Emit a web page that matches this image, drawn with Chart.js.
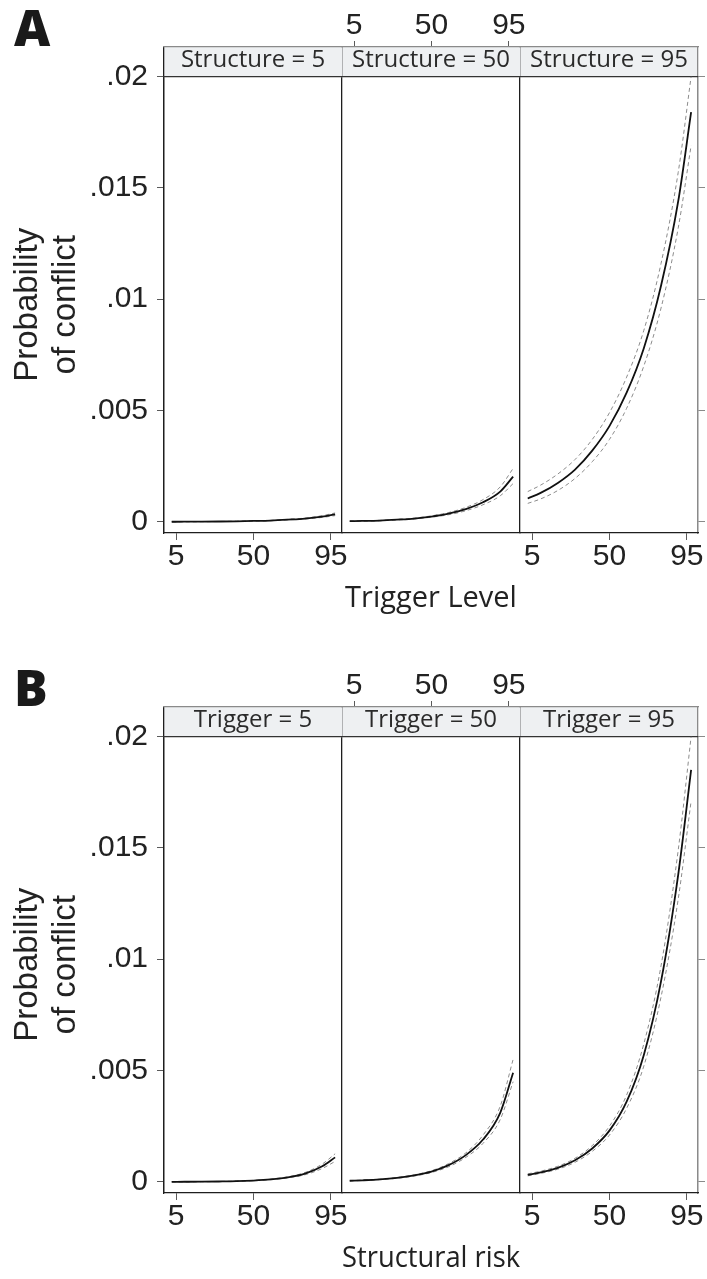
<!DOCTYPE html>
<html lang="en">
<head>
<meta charset="UTF-8">
<title>Probability of conflict</title>
<script src="https://cdn.jsdelivr.net/npm/chart.js@4"></script>
<style>
  html, body { margin: 0; padding: 0; background: #fff; overflow: hidden; }
  body { width: 707px; height: 1279px; position: relative; }
  canvas { position: absolute; left: 0; }
  #chartA { top: 0; }
  #chartB { top: 660px; }
  .letter { position: absolute; left: 14px; font: 800 50px/1 "Open Sans", sans-serif; color: #1a1a1a; }
</style>
</head>
<body>
<div class="letter" style="top:2px">A</div>
<div class="letter" style="top:662px">B</div>
<canvas id="chartA" width="707" height="619"></canvas>
<canvas id="chartB" width="707" height="619"></canvas>
<script>
// where the curves were read (percentile of the varying variable)
const xPoints = [2.5, 10, 20, 30, 40, 50, 60, 70, 80, 90, 97.5];
const xTicks = [5, 50, 95];
const yTicks = [0, 0.005, 0.01, 0.015, 0.02];
const yTickLabels = ['0', '.005', '.01', '.015', '.02'];

// A: trigger level varies, structure held fixed
const stripA = ['Structure = 5', 'Structure = 50', 'Structure = 95'];
const struct5Est  = [0.000005, 0.000007, 0.00001, 0.000016, 0.000025, 0.00004, 0.00006, 0.0001, 0.00015, 0.00024, 0.00034];
const struct5Lo   = [0.000004, 0.000006, 0.000009, 0.000014, 0.000022, 0.000035, 0.000053, 0.000087, 0.00013, 0.0002, 0.00028];
const struct5Hi   = [0.000006, 0.000008, 0.000012, 0.000018, 0.000029, 0.000046, 0.00007, 0.000115, 0.00017, 0.00028, 0.0004];
const struct50Est = [0.00003, 0.00004, 0.00006, 0.0001, 0.00015, 0.00024, 0.00037, 0.00057, 0.00088, 0.00136, 0.00203];
const struct50Lo  = [0.00002, 0.00003, 0.00005, 0.00008, 0.00013, 0.00021, 0.00032, 0.0005, 0.00077, 0.00117, 0.00172];
const struct50Hi  = [0.00004, 0.00005, 0.00007, 0.00011, 0.00017, 0.00027, 0.00042, 0.00065, 0.001, 0.00157, 0.0024];
const struct95Est = [0.00105, 0.0013, 0.00175, 0.00235, 0.0032, 0.0043, 0.0058, 0.0078, 0.0106, 0.0144, 0.0184];
const struct95Lo  = [0.00083, 0.00103, 0.00141, 0.00195, 0.0027, 0.0037, 0.0051, 0.007, 0.0096, 0.0132, 0.0169];
const struct95Hi  = [0.00136, 0.00165, 0.00215, 0.0028, 0.0037, 0.0049, 0.0065, 0.0086, 0.0116, 0.0157, 0.02];

// B: structural risk varies, trigger held fixed
const stripB = ['Trigger = 5', 'Trigger = 50', 'Trigger = 95'];
const trig5Est  = [0.000003, 0.000005, 0.000009, 0.000017, 0.00003, 0.00006, 0.00011, 0.0002, 0.00037, 0.0007, 0.0011];
const trig5Lo   = [0.000002, 0.000004, 0.000008, 0.000015, 0.000027, 0.000053, 0.000097, 0.00018, 0.00032, 0.0006, 0.00092];
const trig5Hi   = [0.000004, 0.000006, 0.00001, 0.000019, 0.000034, 0.000067, 0.000125, 0.00023, 0.00042, 0.0008, 0.00126];
const trig50Est = [0.00005, 0.00007, 0.00011, 0.00018, 0.00029, 0.00046, 0.00075, 0.0012, 0.0019, 0.0031, 0.0049];
const trig50Lo  = [0.00004, 0.00006, 0.0001, 0.00016, 0.00026, 0.00042, 0.00068, 0.0011, 0.00173, 0.0028, 0.0045];
const trig50Hi  = [0.00006, 0.00008, 0.00012, 0.0002, 0.00032, 0.0005, 0.00082, 0.0013, 0.0021, 0.0034, 0.0055];
const trig95Est = [0.00031, 0.00043, 0.00063, 0.00097, 0.0015, 0.0023, 0.0036, 0.0057, 0.009, 0.0138, 0.0185];
const trig95Lo  = [0.00027, 0.00038, 0.00057, 0.00088, 0.00137, 0.0021, 0.0033, 0.0052, 0.0083, 0.0127, 0.0171];
const trig95Hi  = [0.00036, 0.00048, 0.0007, 0.00106, 0.00163, 0.0025, 0.0039, 0.0062, 0.0097, 0.0149, 0.02];

const X_MIN = -2, X_MAX = 101.5;
const Y_MIN = -0.0005, Y_MAX = 0.02;
const dark = '#1e1e1e', gray = '#8a8a8a', tickGray = '#5a5a5a';
const tickFont = { family: '"Liberation Sans", Arial, sans-serif', size: 30, lineHeight: 1 };
const labelFont = '"Open Sans", "Noto Sans", sans-serif';

function setTicks(values) {
    return axis => { axis.ticks = values.map(v => ({ value: v })); };
}
function noPad(axis) {
    axis.paddingLeft = axis.paddingRight = axis.paddingTop = axis.paddingBottom = 0;
}
function fixHeight(h) {
    return axis => { axis.height = h; noPad(axis); };
}
function fixWidth(w) {
    return axis => { axis.width = w; noPad(axis); };
}

function makeChart(canvasId, strips, panels, xTitle) {
    const scales = {
        y: {
            type: 'linear', position: 'left', min: Y_MIN, max: Y_MAX,
            afterBuildTicks: setTicks(yTicks),
            afterFit: fixWidth(164),
            ticks: { font: tickFont, color: '#222', padding: 9,
                     callback: v => yTickLabels[yTicks.indexOf(v)] },
            grid: { drawOnChartArea: false, tickLength: 7, color: tickGray },
            border: { color: dark, width: 1.3 },
            title: { display: true, text: ['Probability', 'of conflict'], color: '#222',
                     font: { family: '"Liberation Sans", Arial, sans-serif', size: 33, lineHeight: 1.15 },
                     padding: { top: 9, bottom: 0 } }
        },
        yr: {
            type: 'linear', axis: 'y', position: 'right', min: Y_MIN, max: Y_MAX,
            afterBuildTicks: setTicks(yTicks),
            afterFit: fixWidth(9),
            ticks: { display: false },
            grid: { drawOnChartArea: false, tickLength: 7, color: gray },
            border: { color: gray, width: 1.3 }
        }
    };

    // bottom axes: labels on the outer panels, title under the middle one
    [0, 1, 2].forEach(i => {
        scales['x' + (i + 1)] = {
            type: 'linear', axis: 'x', position: 'bottom', stack: 'bottom', weight: 1,
            min: X_MIN, max: X_MAX,
            afterBuildTicks: setTicks(xTicks),
            afterFit: fixHeight(86),
            ticks: { display: i !== 1, font: tickFont, color: '#222', padding: 2, autoSkip: false, maxRotation: 0 },
            grid: { drawOnChartArea: false, drawTicks: i !== 1, tickLength: 7, color: tickGray },
            border: { color: dark, width: 1.3 },
            title: { display: i === 1, text: xTitle, color: '#222',
                     font: { family: labelFont, size: 29 }, padding: { top: 0, bottom: 3 } }
        };
    });

    // top boxes are laid out right to left, so add them in reverse
    [2, 1, 0].forEach(i => {
        // strip band with the panel label; its edge ticks give the panel dividers
        scales['s' + (i + 1)] = {
            type: 'linear', axis: 'x', position: 'top', stack: 'strip', weight: 1,
            min: X_MIN, max: X_MAX,
            afterBuildTicks: setTicks(i === 2 ? [X_MIN, X_MAX] : [X_MIN]),
            afterFit: fixHeight(29.5),
            backgroundColor: '#eef0f2',
            ticks: { display: false },
            grid: { drawOnChartArea: true, tickLength: 29.5, lineWidth: 1.3,
                    color: ctx => (i === 2 && ctx.index === 1) ? gray : dark },
            border: { color: '#333', width: 1.3 },
            title: { display: true, text: strips[i], color: '#2a2a2a',
                     font: { family: labelFont, size: 24, lineHeight: 1 }, padding: { top: 1, bottom: 0 } }
        };
        // top axis, only the middle panel shows ticks
        scales['t' + (i + 1)] = {
            type: 'linear', axis: 'x', position: 'top', stack: 'top', weight: 2,
            min: X_MIN, max: X_MAX,
            afterBuildTicks: setTicks(xTicks),
            afterFit: fixHeight(47),
            ticks: { display: i === 1, font: tickFont, color: '#222', padding: 0, autoSkip: false, maxRotation: 0 },
            grid: { display: i === 1, drawOnChartArea: false, tickLength: 6, color: tickGray },
            border: { color: gray, width: 1.3 }
        };
    });

    const points = arr => xPoints.map((x, k) => ({ x: x, y: arr[k] }));
    const solid = [], dashed = [];
    panels.forEach((p, i) => {
        const ax = 'x' + (i + 1);
        solid.push({ data: points(p[0]), xAxisID: ax, yAxisID: 'y', borderColor: '#111', borderWidth: 1.8,
                     pointRadius: 0, cubicInterpolationMode: 'monotone' });
        [p[1], p[2]].forEach(ci => {
            dashed.push({ data: points(ci), xAxisID: ax, yAxisID: 'y', borderColor: '#8c8c8c', borderWidth: 1,
                          borderDash: [4, 3], pointRadius: 0, cubicInterpolationMode: 'monotone' });
        });
    });

    return new Chart(document.getElementById(canvasId), {
        type: 'line',
        data: { datasets: solid.concat(dashed) },
        options: {
            responsive: false,
            animation: false,
            devicePixelRatio: 1,
            layout: { padding: 0, autoPadding: false },
            plugins: { legend: { display: false }, tooltip: { enabled: false } },
            scales: scales
        }
    });
}

makeChart('chartA', stripA, [
    [struct5Est, struct5Lo, struct5Hi],
    [struct50Est, struct50Lo, struct50Hi],
    [struct95Est, struct95Lo, struct95Hi]
], 'Trigger Level');

makeChart('chartB', stripB, [
    [trig5Est, trig5Lo, trig5Hi],
    [trig50Est, trig50Lo, trig50Hi],
    [trig95Est, trig95Lo, trig95Hi]
], 'Structural risk');
</script>
</body>
</html>
